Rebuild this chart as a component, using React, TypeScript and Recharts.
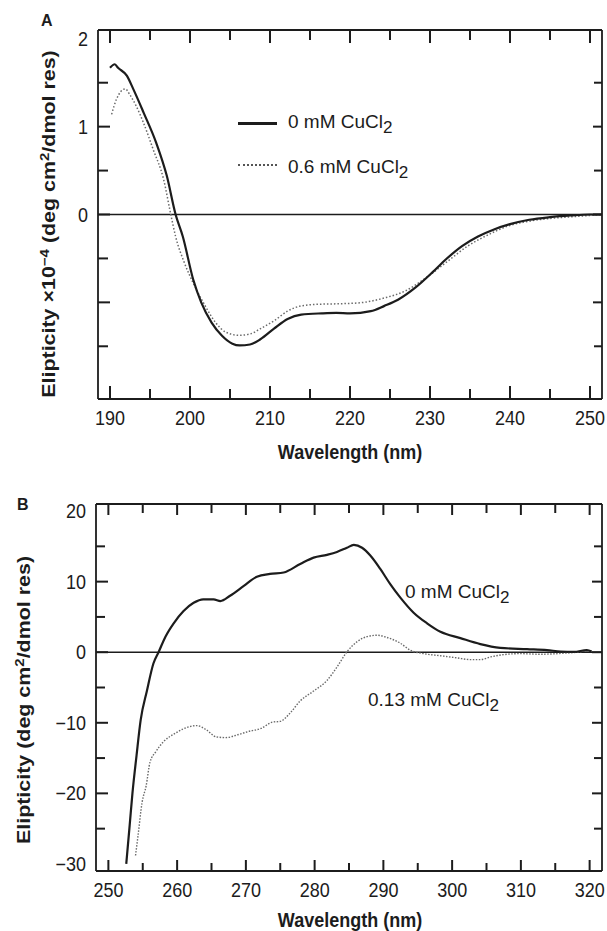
import React from "react";
import { LineChart, Line, XAxis, YAxis, ReferenceLine } from "recharts";

// Panel A: far-UV CD, ellipticity x 10^-4
const aNmNoCu = [190, 190.6, 191, 192.1, 192.9, 194.2, 195.8, 197.1, 198.2, 199.1, 200.4, 201.4, 202.7, 204, 205.3, 206.2, 207.5, 208.8, 210.5, 212.2, 213.9, 216.5, 218.3, 220, 222.6, 224.3, 226, 228.2, 230.4, 232, 234, 236, 238, 240, 242.4, 245, 247.6, 250, 251.5];
const aValNoCu = [1.67, 1.71, 1.67, 1.58, 1.43, 1.16, 0.81, 0.44, 0, -0.25, -0.74, -1.0, -1.23, -1.38, -1.47, -1.49, -1.48, -1.42, -1.3, -1.19, -1.14, -1.125, -1.12, -1.125, -1.1, -1.04, -0.97, -0.83, -0.65, -0.51, -0.36, -0.25, -0.17, -0.11, -0.06, -0.03, -0.011, 0, 0];
const aNmCu = [190.2, 190.8, 191.9, 192.5, 193.3, 194.2, 195.4, 196.7, 197.6, 198.2, 199.3, 200.4, 201.9, 203.2, 204.5, 206.2, 207.5, 208.8, 210.5, 212.2, 213.9, 216.5, 219.1, 221.7, 224.3, 226.9, 229.5, 232.1, 234.7, 237.3, 239.8, 242.4, 245, 247.6, 250, 251.5];
const aValCu = [1.14, 1.31, 1.43, 1.36, 1.23, 1.04, 0.74, 0.4, 0, -0.25, -0.55, -0.78, -1.04, -1.23, -1.34, -1.375, -1.36, -1.3, -1.21, -1.1, -1.04, -1.02, -1.015, -1.0, -0.95, -0.87, -0.72, -0.54, -0.36, -0.23, -0.13, -0.076, -0.045, -0.027, -0.01, 0];
const aXTicks = [190, 195, 200, 205, 210, 215, 220, 225, 230, 235, 240, 245, 250];
const aYTicks = [-1.5, -1, -0.5, 0, 0.5, 1, 1.5, 2];
const aYLabelled = [0, 1, 2];

// Panel B: near-UV CD
const bNmNoCu = [252.6, 253.1, 253.5, 254.1, 254.7, 255.6, 256.55, 257.3, 258.3, 259.5, 260.9, 262.4, 263.8, 265.3, 266.3, 267.7, 269.7, 271.6, 273.5, 275.5, 277.9, 279.85, 281.8, 283.25, 284.7, 285.7, 286.9, 288.1, 289.55, 291, 292.5, 294.4, 296.35, 298.3, 301.2, 304.1, 307, 310.9, 313.8, 315.8, 317.7, 319.6, 320.3];
const bValNoCu = [-30, -24.5, -20, -14.6, -9.6, -5.5, -1.6, 0, 2.2, 4.1, 5.8, 7.0, 7.5, 7.5, 7.25, 8.0, 9.4, 10.7, 11.1, 11.3, 12.5, 13.4, 13.8, 14.2, 14.8, 15.2, 14.8, 13.7, 11.8, 9.65, 7.7, 5.6, 4.1, 2.9, 2.0, 1.15, 0.62, 0.43, 0.29, 0.1, 0.05, 0.3, 0.1];
const bNmCu = [253.95, 254.3, 254.9, 255.5, 256.05, 256.9, 258, 259.7, 262, 262.85, 264.25, 265.7, 267.1, 268.8, 270.5, 272.2, 273.9, 275, 276.45, 277.9, 279.85, 281.8, 283.25, 284.7, 286.2, 287.6, 289.1, 290.5, 292.5, 293.9, 295.85, 298.3, 300.7, 302.7, 304.1, 305.6, 307.5, 309.9, 312.8, 315.8, 318.2, 319.6, 320.3];
const bValCu = [-28.8, -26.1, -21.3, -18.9, -15.6, -14.1, -12.7, -11.5, -10.5, -10.4, -11.0, -12.0, -12.1, -11.7, -11.2, -10.8, -9.9, -9.8, -8.6, -6.9, -5.5, -4.0, -2.1, 0.05, 1.5, 2.2, 2.4, 2.1, 1.25, 0.3, -0.2, -0.5, -0.8, -1.05, -1.05, -0.67, -0.34, -0.2, -0.29, -0.17, 0, 0.15, 0.1];
const bXTicks = [250, 255, 260, 265, 270, 275, 280, 285, 290, 295, 300, 305, 310, 315, 320];
const bYTicks = [-30, -25, -20, -15, -10, -5, 0, 5, 10, 15, 20];

const INK = "#1c1c1c";
const FONT = "'Liberation Sans', Arial, Helvetica, sans-serif";

const zip = (xs: number[], ys: number[]) => xs.map((nm, i) => ({ nm, v: ys[i] }));

type TickOpts = {
  side: "bottom" | "left";
  major: (v: number) => boolean;
  label: (v: number) => string | null;
  noLine?: number[];
  majorLen: number;
  minorLen: number;
  // distance to the opposite frame edge, where a mirrored tick is drawn
  span: number;
  mirrorMajor: number;
  mirrorMinor: number;
};

// inward tick marks on both edges + outside labels
function makeTick(o: TickOpts) {
  return (props: any) => {
    const x = Number(props.x);
    const y = Number(props.y);
    const v = Number(props.payload.value);
    const isMajor = o.major(v);
    const len = isMajor ? o.majorLen : o.minorLen;
    const mlen = isMajor ? o.mirrorMajor : o.mirrorMinor;
    const showLine = !(o.noLine || []).includes(v);
    const text = o.label(v);
    let near = "";
    let far = "";
    let label = null;
    if (o.side === "bottom") {
      const yt = y - o.span;
      near = `M${x},${y}V${y - len}`;
      far = `M${x},${yt}V${yt + mlen}`;
      if (text)
        label = (
          <text transform={`translate(${x},${y + 26}) scale(1,1.1)`} textAnchor="middle" fontSize={18} fontFamily={FONT} fill={INK} stroke="none">
            {text}
          </text>
        );
    } else {
      const xr = x + o.span;
      near = `M${x},${y}H${x + len}`;
      far = `M${xr},${y}H${xr - mlen}`;
      if (text)
        label = (
          <text transform={`translate(${x - 10},${y + 7}) scale(1,1.1)`} textAnchor="end" fontSize={18} fontFamily={FONT} fill={INK} stroke="none">
            {text}
          </text>
        );
    }
    return (
      <g>
        {showLine && <path d={near} stroke={INK} strokeWidth={2} fill="none" />}
        {showLine && <path d={far} stroke={INK} strokeWidth={2} fill="none" />}
        {label}
      </g>
    );
  };
}

const isTen = (v: number) => v % 10 === 0;
const signed = (v: number) => (v < 0 ? "\u2212" + Math.abs(v) : String(v));

const axisLine = { stroke: INK, strokeWidth: 1.8 };

function Txt({ left, top, size = 19, bold = false, children }: any) {
  return (
    <div
      style={{
        position: "absolute",
        left,
        top,
        transform: "translateY(-50%)",
        fontSize: size,
        fontWeight: bold ? "bold" : "normal",
        lineHeight: 1,
        whiteSpace: "nowrap",
        color: INK,
      }}
    >
      {children}
    </div>
  );
}

function VTxt({ cx, cy, children }: any) {
  return (
    <div
      style={{
        position: "absolute",
        left: cx,
        top: cy,
        transform: "translate(-50%, -50%) rotate(-90deg) scale(1.19, 1)",
        fontSize: 18,
        fontWeight: "bold",
        lineHeight: "18px",
        whiteSpace: "nowrap",
        color: INK,
      }}
    >
      {children}
    </div>
  );
}

function XTitle({ top }: { top: number }) {
  return (
    <div
      style={{
        position: "absolute",
        left: 350,
        top,
        transform: "translate(-50%, -50%) scale(1, 1.12)",
        fontSize: 18,
        fontWeight: "bold",
        whiteSpace: "nowrap",
        color: INK,
        lineHeight: 1,
      }}
    >
      Wavelength (nm)
    </div>
  );
}

const Sub = ({ children }: any) => (
  <span style={{ position: "relative", top: "0.32em", fontSize: "0.9em" }}>{children}</span>
);
const Sup = ({ children }: any) => (
  <span style={{ position: "relative", top: "-0.45em", fontSize: "0.7em" }}>{children}</span>
);

// plot sizes: A 504 x 369, B 506 x 367 (from chart size, margins and axis sizes)
const A_W = 504;
const A_H = 369;
const B_W = 506;
const B_H = 367;

export default function App() {
  const aNoCu = zip(aNmNoCu, aValNoCu);
  const aCu = zip(aNmCu, aValCu);
  const bNoCu = zip(bNmNoCu, bValNoCu);
  const bCu = zip(bNmCu, bValCu);

  return (
    <div
      style={{
        position: "absolute",
        left: 0,
        top: 0,
        width: 607,
        height: 931,
        background: "#fff",
        fontFamily: FONT,
        overflow: "hidden",
      }}
    >
      <div style={{ position: "absolute", left: 0, top: 0 }}>
        <LineChart width={607} height={470} margin={{ top: 20, right: 0, bottom: 41, left: 38 }}>
          <XAxis
            dataKey="nm"
            type="number"
            domain={[188.5, 251.5]}
            allowDataOverflow
            ticks={aXTicks}
            interval={0}
            height={30}
            tickSize={0}
            tickMargin={0}
            axisLine={axisLine}
            tickLine={false}
            tick={makeTick({
              side: "bottom",
              major: isTen,
              label: (v) => (isTen(v) ? String(v) : null),
              majorLen: 13,
              minorLen: 10,
              span: A_H,
              mirrorMajor: 13,
              mirrorMinor: 10,
            })}
          />
          <XAxis xAxisId="top" orientation="top" type="number" domain={[188.5, 251.5]} height={10} axisLine={axisLine} tickLine={false} tick={false} />
          <YAxis
            type="number"
            domain={[-2.1, 2.1]}
            allowDataOverflow
            ticks={aYTicks}
            interval={0}
            width={60}
            tickSize={0}
            tickMargin={0}
            axisLine={axisLine}
            tickLine={false}
            tick={makeTick({
              side: "left",
              major: (v) => Number.isInteger(v),
              label: (v) => (aYLabelled.includes(v) ? String(v) : null),
              noLine: [2],
              majorLen: 12,
              minorLen: 10,
              span: A_W,
              mirrorMajor: 9,
              mirrorMinor: 8,
            })}
          />
          <YAxis yAxisId="right" orientation="right" type="number" domain={[-2.1, 2.1]} width={5} axisLine={axisLine} tickLine={false} tick={false} />
          <ReferenceLine y={0} stroke={INK} strokeWidth={1.6} />
          <Line data={aCu} dataKey="v" type="monotone" stroke="#6a6a6a" strokeWidth={1.5} strokeDasharray="1.5 2" dot={false} isAnimationActive={false} />
          <Line data={aNoCu} dataKey="v" type="monotone" stroke={INK} strokeWidth={2.2} dot={false} isAnimationActive={false} />
        </LineChart>
      </div>

      <div style={{ position: "absolute", left: 0, top: 470 }}>
        <LineChart width={607} height={461} margin={{ top: 24, right: 0, bottom: 30, left: 36 }}>
          <XAxis
            dataKey="nm"
            type="number"
            domain={[248.2, 321.8]}
            allowDataOverflow
            ticks={bXTicks}
            interval={0}
            height={30}
            tickSize={0}
            tickMargin={0}
            axisLine={axisLine}
            tickLine={false}
            tick={makeTick({
              side: "bottom",
              major: isTen,
              label: (v) => (isTen(v) ? String(v) : null),
              majorLen: 11,
              minorLen: 8,
              span: B_H,
              mirrorMajor: 11,
              mirrorMinor: 9,
            })}
          />
          <XAxis xAxisId="top" orientation="top" type="number" domain={[248.2, 321.8]} height={10} axisLine={axisLine} tickLine={false} tick={false} />
          <YAxis
            type="number"
            domain={[-31, 21]}
            allowDataOverflow
            ticks={bYTicks}
            interval={0}
            width={60}
            tickSize={0}
            tickMargin={0}
            axisLine={axisLine}
            tickLine={false}
            tick={makeTick({
              side: "left",
              major: isTen,
              label: (v) => (isTen(v) ? signed(v) : null),
              noLine: [-30, 20],
              majorLen: 12,
              minorLen: 9,
              span: B_W,
              mirrorMajor: 10,
              mirrorMinor: 8,
            })}
          />
          <YAxis yAxisId="right" orientation="right" type="number" domain={[-31, 21]} width={5} axisLine={axisLine} tickLine={false} tick={false} />
          <ReferenceLine y={0} stroke={INK} strokeWidth={1.6} />
          <Line data={bCu} dataKey="v" type="monotone" stroke="#6a6a6a" strokeWidth={1.4} strokeDasharray="1.5 1.5" dot={false} isAnimationActive={false} />
          <Line data={bNoCu} dataKey="v" type="monotone" stroke={INK} strokeWidth={2.2} dot={false} isAnimationActive={false} />
        </LineChart>
      </div>

      {/* panel letters */}
      <Txt left={41} top={21} size={16} bold>A</Txt>
      <Txt left={17} top={505} size={16} bold>B</Txt>

      {/* panel A legend */}
      <div style={{ position: "absolute", left: 238, top: 122, width: 39, height: 2.5, background: INK }} />
      <div style={{ position: "absolute", left: 238, top: 164, width: 39, borderTop: "2px dotted #555" }} />
      <Txt left={288} top={122}>
        0 mM CuCl<Sub>2</Sub>
      </Txt>
      <Txt left={288} top={167}>
        0.6 mM CuCl<Sub>2</Sub>
      </Txt>

      {/* panel B curve labels */}
      <Txt left={405} top={592}>
        0 mM CuCl<Sub>2</Sub>
      </Txt>
      <Txt left={368} top={700}>
        0.13 mM CuCl<Sub>2</Sub>
      </Txt>

      {/* axis titles */}
      <VTxt cx={50} cy={224}>
        Elipticity {"\u00d7"}10<Sup>{"\u2212"}4</Sup> (deg cm<Sup>2</Sup>/dmol res)
      </VTxt>
      <VTxt cx={25} cy={700}>
        Elipticity (deg cm<Sup>2</Sup>/dmol res)
      </VTxt>
      <XTitle top={452} />
      <XTitle top={920} />
    </div>
  );
}
